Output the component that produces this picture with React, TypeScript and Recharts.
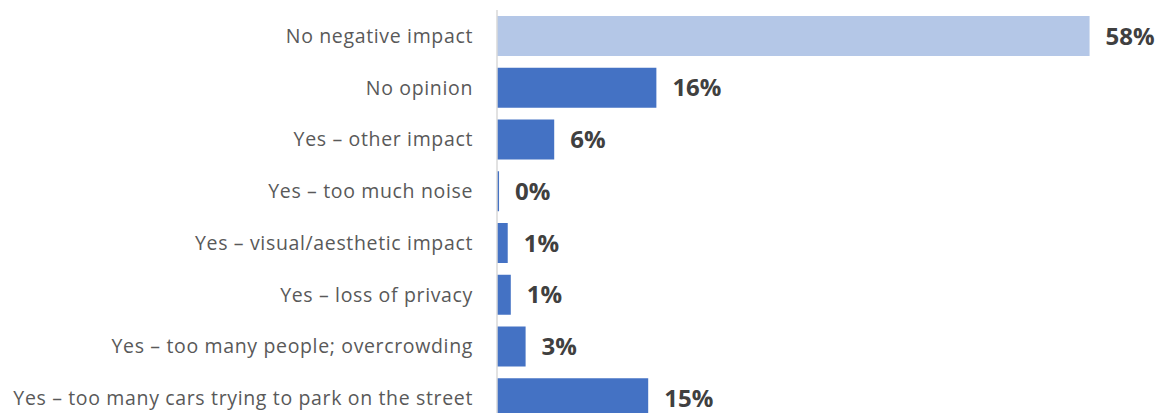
import React from "react";
import { BarChart, Bar, XAxis, YAxis, Cell, LabelList } from "recharts";

const categories = [
  "No negative impact",
  "No opinion",
  "Yes – other impact",
  "Yes – too much noise",
  "Yes – visual/aesthetic impact",
  "Yes – loss of privacy",
  "Yes – too many people; overcrowding",
  "Yes – too many cars trying to park on the street",
];
const values = [58, 15.6, 5.6, 0.2, 1.05, 1.35, 2.8, 14.8];
const colors = ["#B4C7E7", "#4472C4", "#4472C4", "#4472C4", "#4472C4", "#4472C4", "#4472C4", "#4472C4"];

const data = categories.map((c, i) => ({ name: c, value: values[i] }));

const FONT = "'Open Sans', sans-serif";

export default function App() {
  return (
    <div style={{ width: 1156, height: 413, overflow: "hidden", background: "#fff" }}>
      <style>{`body{margin:0}`}</style>
      <BarChart
        width={1156}
        height={430}
        data={data}
        layout="vertical"
        margin={{ top: 10, right: 46, bottom: 6, left: 0 }}
      >
        <XAxis type="number" domain={[0, 60]} hide />
        <YAxis
          type="category"
          dataKey="name"
          width={497}
          tickLine={false}
          tickSize={0}
          tickMargin={24}
          axisLine={{ stroke: "#D9D9D9", strokeWidth: 1.5 }}
          tick={{ fill: "#595959", fontSize: 19.5, fontFamily: FONT, letterSpacing: 0.65 }}
          interval={0}
        />
        <Bar dataKey="value" barSize={40} isAnimationActive={false}>
          {data.map((d, i) => (
            <Cell key={i} fill={colors[i]} />
          ))}
          <LabelList
            dataKey="value"
            position="right"
            offset={16}
            formatter={(v: number) => `${Math.round(v)}%`}
            style={{ fill: "#404040", fontSize: 24, fontWeight: 700, fontFamily: FONT }}
          />
        </Bar>
      </BarChart>
    </div>
  );
}
